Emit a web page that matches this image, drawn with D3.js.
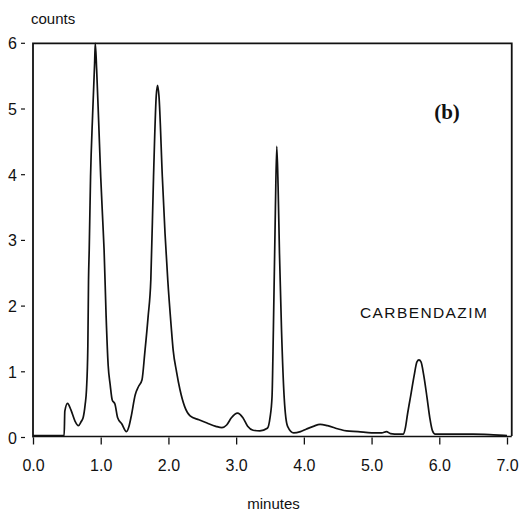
<!DOCTYPE html>
<html>
<head>
<meta charset="utf-8">
<script src="https://cdn.jsdelivr.net/npm/d3@7"></script>
<style>
html,body{margin:0;padding:0;background:#fff;}
svg{display:block;}
</style>
</head>
<body>
<svg id="chart" width="521" height="512"></svg>
<script>
const times = [0,0.1,0.2,0.3,0.4,0.46,0.47,0.51,0.56,0.62,0.67,0.71,0.74,0.77,0.79,0.81,0.82,0.83,0.85,0.88,0.91,0.92,0.94,0.97,1.0,1.03,1.05,1.08,1.11,1.14,1.17,1.21,1.25,1.31,1.38,1.42,1.45,1.51,1.56,1.61,1.65,1.70,1.74,1.78,1.82,1.84,1.86,1.91,1.95,1.99,2.04,2.07,2.12,2.17,2.24,2.32,2.45,2.57,2.70,2.79,2.86,2.93,3.02,3.10,3.17,3.25,3.35,3.46,3.50,3.53,3.55,3.58,3.60,3.62,3.64,3.67,3.71,3.76,3.85,3.95,4.04,4.14,4.24,4.35,4.51,4.63,4.80,5.00,5.15,5.22,5.28,5.40,5.47,5.50,5.53,5.58,5.63,5.67,5.70,5.73,5.77,5.82,5.86,5.90,5.94,6.2,6.5,6.8,7.0];
const counts = [0.03,0.03,0.03,0.03,0.03,0.03,0.40,0.52,0.42,0.25,0.18,0.24,0.30,0.50,0.73,1.39,2.4,2.85,3.97,4.9,5.7,6.0,5.6,4.8,3.97,3.3,2.85,1.84,1.1,0.8,0.57,0.51,0.30,0.21,0.09,0.18,0.32,0.65,0.78,0.88,1.28,1.84,2.4,3.97,5.2,5.36,5.2,3.97,3.1,2.4,1.7,1.33,1.0,0.73,0.47,0.33,0.27,0.22,0.17,0.15,0.19,0.30,0.37,0.30,0.17,0.11,0.10,0.14,0.30,0.62,1.64,3.5,4.43,3.8,2.8,1.64,0.6,0.17,0.07,0.09,0.13,0.17,0.20,0.18,0.13,0.10,0.09,0.07,0.07,0.09,0.06,0.05,0.05,0.15,0.35,0.65,0.95,1.15,1.18,1.15,0.95,0.6,0.3,0.1,0.05,0.05,0.05,0.04,0.03];
const xTicks = [0,1,2,3,4,5,6,7];
const xTickLabels = ["0.0","1.0","2.0","3.0","4.0","5.0","6.0","7.0"];
const yTicks = [0,1,2,3,4,5,6];
const yTickLabels = ["0","1","2","3","4","5","6"];
const xTitle = "minutes";
const yTitle = "counts";
const panelLabel = "(b)";
const peakLabel = "CARBENDAZIM";

const svg = d3.select("#chart");
const x = d3.scaleLinear().domain([0,7]).range([33,507]);
const y = d3.scaleLinear().domain([0,6]).range([437.5,43.3]);
const ink = "#111";
const font = "'Liberation Sans', Arial, sans-serif";

// frame
const right = x(7.07);
svg.append("path")
  .attr("d", `M${x(0)},${y(0)} L${x(0)},${y(6)} L${right},${y(6)} L${right},${y(0)-1.5}`)
  .attr("fill","none").attr("stroke",ink).attr("stroke-width",1.8);
svg.append("line").attr("x1",x(0)).attr("x2",right).attr("y1",y(0)-1).attr("y2",y(0)-1)
  .attr("stroke",ink).attr("stroke-width",1.3);

// x axis ticks + labels
const xAxis = d3.axisBottom(x).tickValues(xTicks).tickSize(7).tickPadding(15)
  .tickFormat((d,i)=>xTickLabels[i]);
const gx = svg.append("g").attr("transform",`translate(0,${y(0)})`).call(xAxis);
gx.select(".domain").remove();
gx.selectAll(".tick line").attr("stroke",ink).attr("stroke-width",1.3);
gx.selectAll(".tick text").attr("font-family",font).attr("font-size",16).attr("fill",ink);

// y axis ticks (detached dashes) + labels
const gy = svg.append("g");
gy.selectAll("line").data(yTicks).join("line")
  .attr("x1",21).attr("x2",25).attr("y1",d=>y(d)).attr("y2",d=>y(d))
  .attr("stroke",ink).attr("stroke-width",1.2);
gy.selectAll("text").data(yTicks).join("text")
  .attr("x",12.5).attr("y",d=>y(d)+6).attr("text-anchor","middle")
  .attr("font-family",font).attr("font-size",16).attr("fill",ink)
  .text((d,i)=>yTickLabels[i]);

// titles
svg.append("text").attr("x",31).attr("y",24).attr("font-family",font)
  .attr("font-size",15).attr("fill",ink).text(yTitle);
svg.append("text").attr("x",273.5).attr("y",509).attr("text-anchor","middle")
  .attr("font-family",font).attr("font-size",15).attr("fill",ink).text(xTitle);
svg.append("text").attr("x",447).attr("y",119).attr("text-anchor","middle")
  .attr("font-family","'Liberation Serif', 'Times New Roman', serif").attr("font-weight","bold")
  .attr("font-size",21).attr("fill",ink).text(panelLabel);
svg.append("text").attr("x",360).attr("y",318)
  .attr("font-family",font).attr("font-size",15.5).attr("letter-spacing",1.4)
  .attr("fill",ink).text(peakLabel);

// chromatogram trace
const data = times.map((t,i)=>({t, c: counts[i]}));
const line = d3.line().x(d=>x(d.t)).y(d=>y(d.c)).curve(d3.curveMonotoneX);
svg.append("path").datum(data).attr("d",line)
  .attr("fill","none").attr("stroke",ink).attr("stroke-width",1.7).attr("stroke-linejoin","round");
</script>
</body>
</html>
